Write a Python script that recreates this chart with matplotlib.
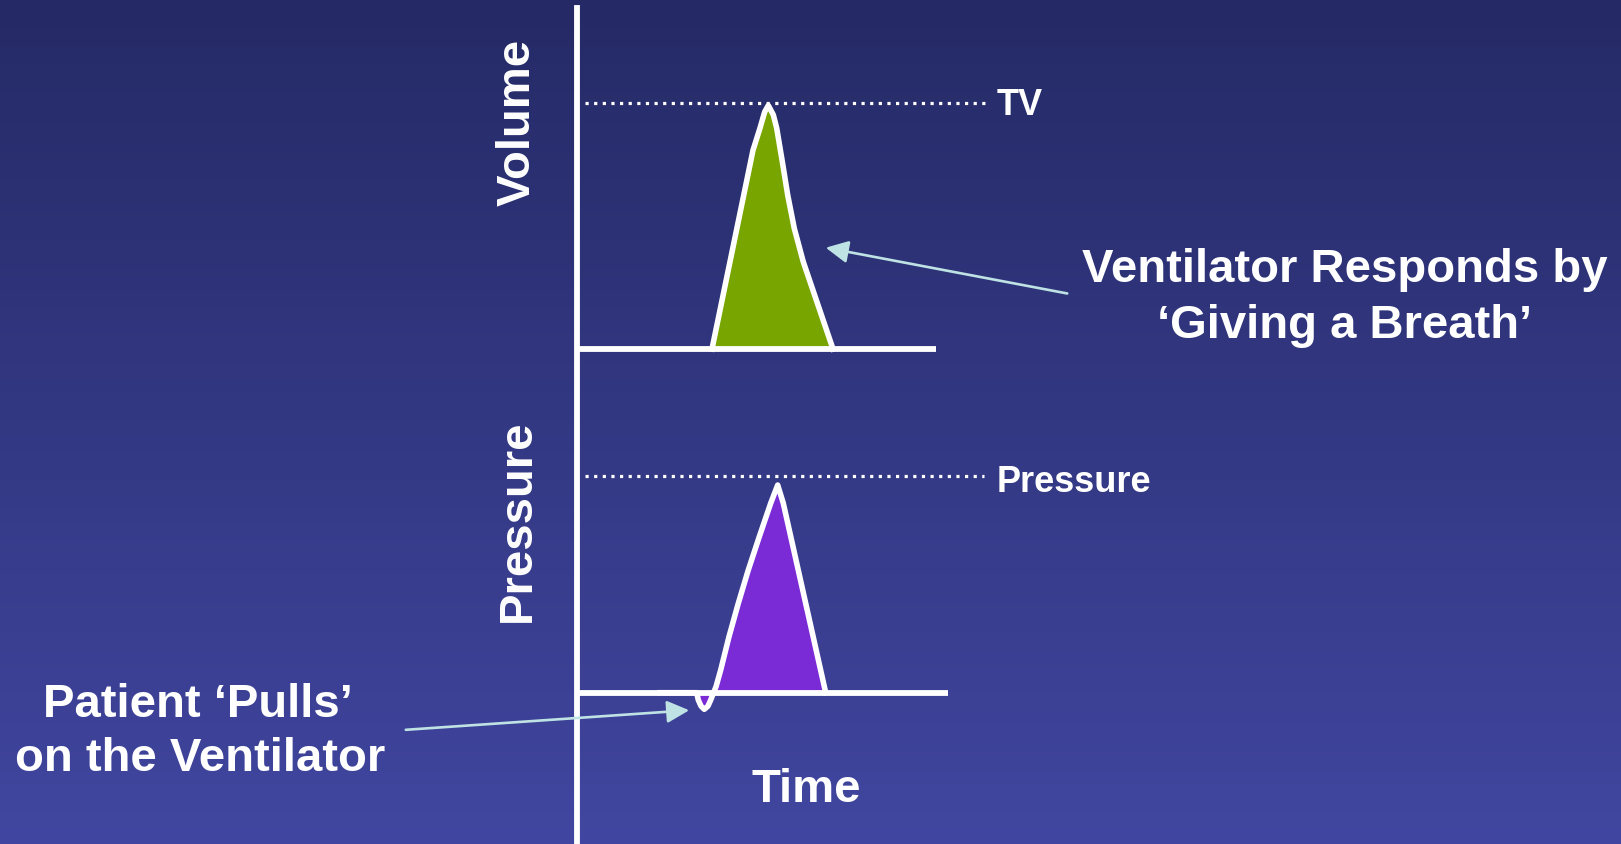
import numpy as np
from matplotlib import pyplot as plt
from matplotlib.patches import FancyArrowPatch

# figure size in pixels
W, H = 1621, 844

# volume trace (time in s, volume in mL)
vol_t = [1.35, 1.76, 1.83, 1.877, 1.913, 1.963, 1.997, 2.053, 2.107, 2.173, 2.263, 2.56]
vol_v = [0, 404, 449, 482, 495, 476, 449, 381, 313, 245, 177, 0]
tidal_volume = 500

# pressure trace (time in s, pressure in cmH2O), with the patient trigger dip
pres_t = [0.83, 1.197, 1.213, 1.24, 1.273, 1.31, 1.337, 1.39, 1.437, 1.52, 1.613, 1.713,
          1.823, 1.937, 2.007, 2.063, 2.487]
pres_p = [0, 0, -0.67, -1.23, -1.53, -1.23, -0.67, 0.55, 2.09, 5.16, 8.24, 11.31,
          14.38, 17.46, 19.14, 17.46, 0]
set_pressure = 20

vol_axis_end = 3.59
pres_axis_end = 3.71
tv_line = [0.08, 4.13]
pres_line = [0.08, 4.07]

# layout (pixels)
axis_x = 577
vol_base_y, vol_top_y = 349, 103
pres_base_y, pres_top_y = 692.7, 475.7
px_per_s = 100

white = "white"
arrow_col = "#bfe3e4"
font = ["Liberation Sans", "DejaVu Sans"]
plt.rcParams["font.family"] = font
lw_axis = 4.2
lw_trace = 4.0

fig = plt.figure(figsize=(W / 100, H / 100), dpi=100)

# background gradient
bg = fig.add_axes([0, 0, 1, 1])
bg.set_xlim(0, W)
bg.set_ylim(H, 0)
bg.axis("off")
top = np.array([37, 42, 102]) / 255
bot = np.array([65, 70, 160]) / 255
f = np.linspace(0, 1, 256)[:, None]
grad = top[None, :] * (1 - f) + bot[None, :] * f
bg.imshow(grad[:, None, :], extent=[0, W, H, 0], aspect="auto", zorder=0)

# vertical axis
bg.axvline(axis_x, ymin=0, ymax=(H - 8) / H, color=white, lw=lw_axis, zorder=2)


def panel(base_y, top_y, ytop):
    ax = fig.add_axes([axis_x / W, (H - base_y) / H, (W - axis_x) / W, (base_y - top_y) / H])
    ax.set_xlim(0, (W - axis_x) / px_per_s)
    ax.set_ylim(0, ytop)
    ax.patch.set_alpha(0)
    ax.axis("off")
    return ax


vax = panel(vol_base_y, vol_top_y, tidal_volume)
pax = panel(pres_base_y, pres_top_y, set_pressure)

# volume panel
vax.fill_between(vol_t, vol_v, 0, color="#78a500", lw=0, zorder=1, clip_on=False)
vax.plot(vol_t, vol_v, color=white, lw=lw_trace, solid_joinstyle="round", zorder=3, clip_on=False)
vax.plot([0, vol_axis_end], [0, 0], color=white, lw=lw_axis, solid_capstyle="butt", zorder=4, clip_on=False)
vax.plot(tv_line, [tidal_volume] * 2, color=white, lw=2.3, ls=(0, (1, 1.7)), zorder=2, clip_on=False)

# pressure panel
pax.fill_between(pres_t, pres_p, 0, color="#7a2bd6", lw=0, zorder=1, clip_on=False)
pax.plot([0, pres_axis_end], [0, 0], color=white, lw=lw_axis, solid_capstyle="butt", zorder=3, clip_on=False)
pax.plot(pres_t, pres_p, color=white, lw=lw_trace, solid_joinstyle="round", zorder=4, clip_on=False)
pax.plot(pres_line, [set_pressure] * 2, color=white, lw=2.3, ls=(0, (1, 1.7)), zorder=2, clip_on=False)

# arrows
def arrow(ax, tip, tail_px):
    a = FancyArrowPatch(posA=tail_px, posB=tip, transform=None, arrowstyle="-|>",
                        mutation_scale=34, color=arrow_col, lw=1.9, zorder=6)
    a.set_positions(bg.transData.transform(tail_px), ax.transData.transform(tip))
    fig.patches.append(a)


fig.canvas.draw()
arrow(vax, (2.46, 207), (1070, 294))
arrow(pax, (1.15, -1.6), (403, 730))

# texts
big = dict(color=white, fontsize=34, fontweight="bold", family=font)
small = dict(color=white, fontsize=26, fontweight="bold", family=font)

bg.text(518, 122, "Volume", rotation=90, ha="center", va="center", **big)
bg.text(518, 521, "Pressure", rotation=90, ha="center", va="center", **big)
bg.text(997, 115, "TV", ha="left", va="baseline", **small)
bg.text(997, 492, "Pressure", ha="left", va="baseline", **small)
bg.text(1345, 282, "Ventilator Responds by", ha="center", va="baseline", **big)
bg.text(1345, 338, "\u2018Giving a Breath\u2019", ha="center", va="baseline", **big)
bg.text(198, 717, "Patient \u2018Pulls\u2019", ha="center", va="baseline", **big)
bg.text(200, 771, "on the Ventilator", ha="center", va="baseline", **big)
bg.text(806, 802, "Time", ha="center", va="baseline", **big)

fig.savefig("out.png", dpi=100)
